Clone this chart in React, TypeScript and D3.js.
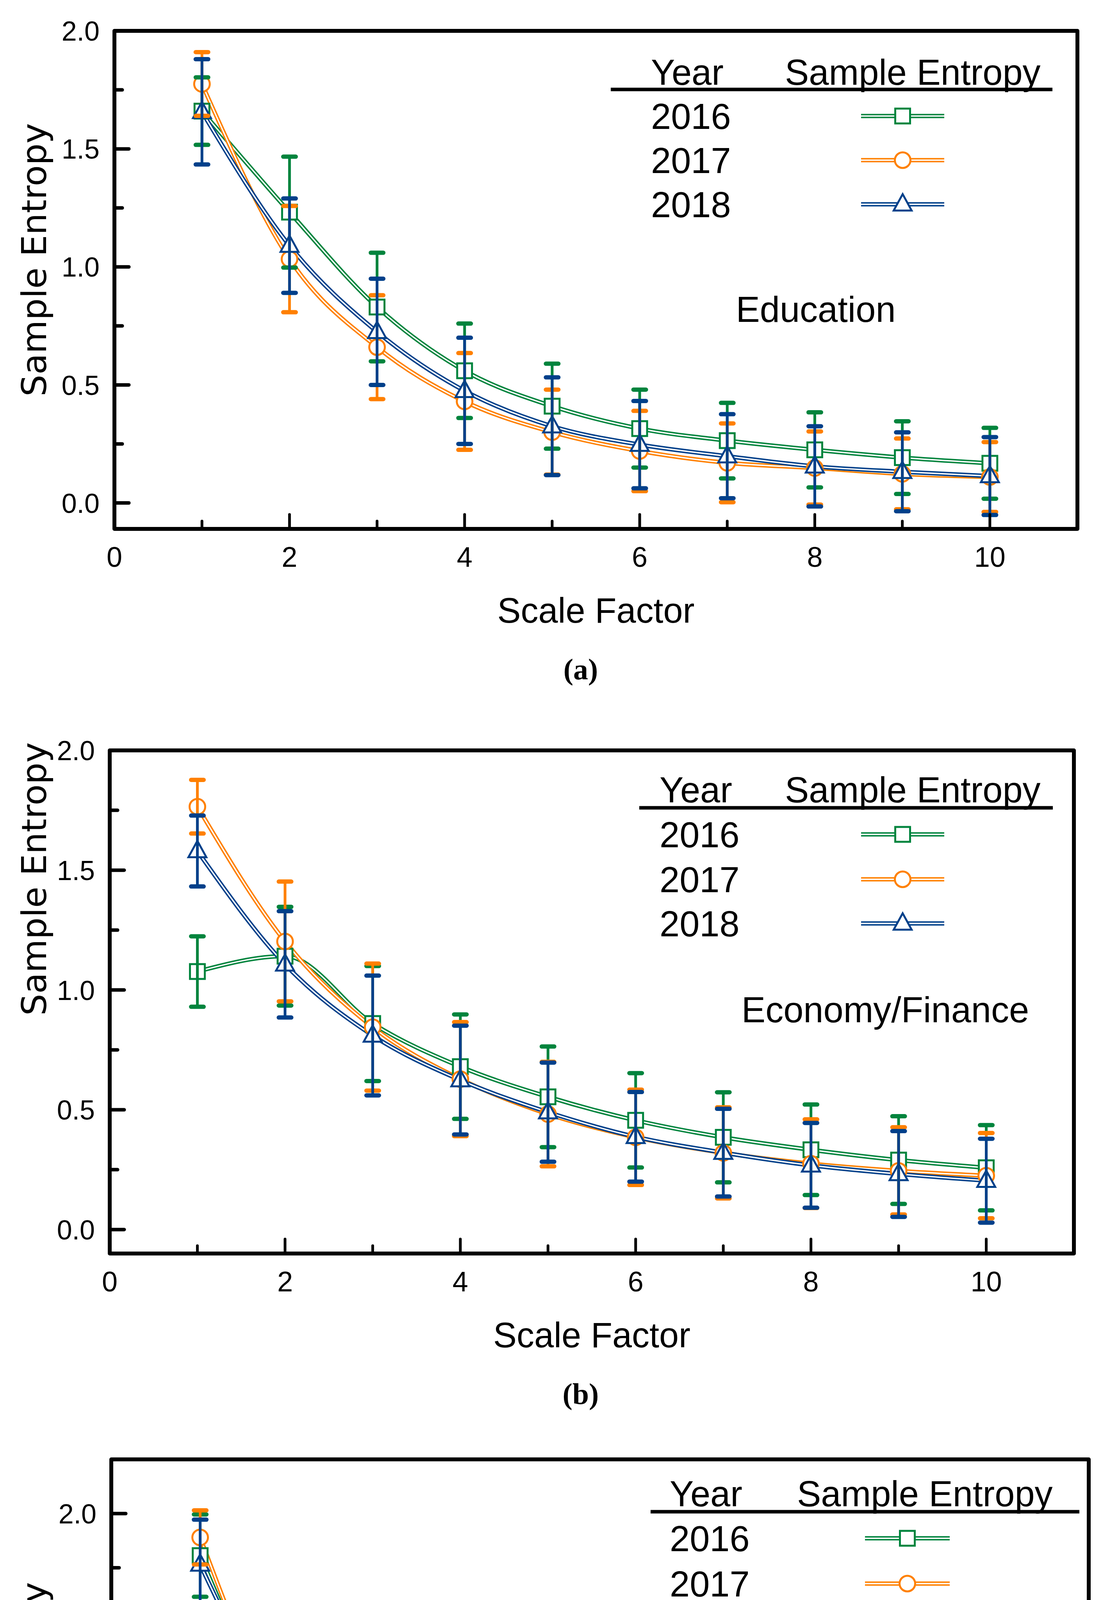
import React from 'react';
import * as d3 from 'd3';

const W = 2845;
const H = 5491;

const scaleFactors = [1, 2, 3, 4, 5, 6, 7, 8, 9, 10];
const years = ['2016', '2017', '2018'];
const seriesColors = ['#00843D', '#FF8000', '#00408A'];
const markerKinds = ['square', 'circle', 'triangle'];

// (a) Education
const eduMean2016 = [1.66, 1.232, 0.83, 0.56, 0.41, 0.315, 0.264, 0.225, 0.192, 0.168];
const eduErr2016 = [0.143, 0.235, 0.23, 0.2, 0.18, 0.165, 0.16, 0.159, 0.154, 0.15];
const eduMean2017 = [1.775, 1.033, 0.66, 0.43, 0.3, 0.22, 0.17, 0.148, 0.123, 0.11];
const eduErr2017 = [0.135, 0.225, 0.22, 0.205, 0.18, 0.17, 0.167, 0.155, 0.15, 0.148];
const eduMean2018 = [1.657, 1.09, 0.725, 0.475, 0.325, 0.247, 0.198, 0.155, 0.132, 0.114];
const eduErr2018 = [0.223, 0.2, 0.225, 0.225, 0.207, 0.185, 0.178, 0.17, 0.167, 0.165];

// (b) Economy/Finance
const ecoMean2016 = [1.077, 1.141, 0.86, 0.68, 0.554, 0.456, 0.385, 0.333, 0.29, 0.258];
const ecoErr2016 = [0.147, 0.206, 0.24, 0.218, 0.21, 0.197, 0.188, 0.189, 0.183, 0.178];
const ecoMean2017 = [1.765, 1.2025, 0.845, 0.628, 0.482, 0.385, 0.32, 0.275, 0.245, 0.225];
const ecoErr2017 = [0.112, 0.25, 0.265, 0.238, 0.218, 0.199, 0.19, 0.185, 0.182, 0.178];
const ecoMean2018 = [1.58, 1.107, 0.81, 0.624, 0.49, 0.387, 0.321, 0.268, 0.232, 0.204];
const ecoErr2018 = [0.148, 0.222, 0.25, 0.227, 0.207, 0.187, 0.183, 0.177, 0.179, 0.175];

// (c) Medicine
const medMean2016 = [1.806, 0.952, 0.551, 0.342, 0.23, 0.152, 0.115, 0.09, 0.08, 0.07];
const medErr2016 = [0.19, 0.217, 0.214, 0.193, 0.176, 0.151, 0.14, 0.135, 0.132, 0.128];
const medMean2017 = [1.89, 0.937, 0.545, 0.338, 0.217, 0.148, 0.11, 0.087, 0.075, 0.068];
const medErr2017 = [0.125, 0.217, 0.214, 0.2, 0.178, 0.152, 0.142, 0.137, 0.133, 0.13];
const medMean2018 = [1.765, 0.985, 0.555, 0.317, 0.208, 0.145, 0.108, 0.085, 0.072, 0.065];
const medErr2018 = [0.207, 0.222, 0.225, 0.204, 0.177, 0.153, 0.143, 0.137, 0.134, 0.13];

const yMajorTicks = [0, 0.5, 1.0, 1.5, 2.0];
const yMinorTicks = [0.25, 0.75, 1.25, 1.75];
const xMajorTicks = [0, 2, 4, 6, 8, 10];
const xMinorTicks = [1, 3, 5, 7, 9];

const SANS = "'Liberation Sans', Arial, Helvetica, sans-serif";
const WIDE = "'DejaVu Sans', Verdana, sans-serif";
const SERIF = "'Liberation Serif', 'Times New Roman', serif";

type Panel = {
  tag: string;
  title: string;
  left: number; right: number; top: number; bottom: number;
  yMin: number; yMax: number;
  means: number[][];
  errs: number[][];
  yTitleY: number;
  legend: { lineX1: number; lineX2: number; lineY: number; headY: number; yearX: number; seX: number; rowY: number[]; symX1: number; symX2: number };
  titleX: number; titleY: number;
};

const panels: Panel[] = [
  {
    tag: '(a)', title: 'Education',
    left: 293, right: 2759, top: 79, bottom: 1354, yMin: -0.11, yMax: 2.0,
    means: [eduMean2016, eduMean2017, eduMean2018],
    errs: [eduErr2016, eduErr2017, eduErr2018],
    yTitleY: 665,
    legend: { lineX1: 1564, lineX2: 2695, lineY: 229, headY: 217, yearX: 1667, seX: 2010, rowY: [330, 443, 556], symX1: 2205, symX2: 2418 },
    titleX: 2089, titleY: 824,
  },
  {
    tag: '(b)', title: 'Economy/Finance',
    left: 281, right: 2750, top: 1921, bottom: 3209, yMin: -0.1, yMax: 2.0,
    means: [ecoMean2016, ecoMean2017, ecoMean2018],
    errs: [ecoErr2016, ecoErr2017, ecoErr2018],
    yTitleY: 2250,
    legend: { lineX1: 1637, lineX2: 2696, lineY: 2068, headY: 2054, yearX: 1689, seX: 2010, rowY: [2169, 2284, 2397], symX1: 2205, symX2: 2418 },
    titleX: 2267, titleY: 2617,
  },
  {
    tag: '(c)', title: 'Medicine',
    left: 285, right: 2788, top: 3736, bottom: 5040, yMin: -0.1, yMax: 2.25,
    means: [medMean2016, medMean2017, medMean2018],
    errs: [medErr2016, medErr2017, medErr2018],
    yTitleY: 4400,
    legend: { lineX1: 1666, lineX2: 2764, lineY: 3870, headY: 3856, yearX: 1715, seX: 2041, rowY: [3971, 4087, 4203], symX1: 2215, symX2: 2432 },
    titleX: 2147, titleY: 4515,
  },
];

function Marker({ kind, cx, cy, color }: { kind: string; cx: number; cy: number; color: string }) {
  const sw = 5;
  if (kind === 'square') {
    return <rect x={cx - 19} y={cy - 19} width={38} height={38} fill="#fff" stroke={color} strokeWidth={sw} />;
  }
  if (kind === 'circle') {
    return <circle cx={cx} cy={cy} r={20} fill="#fff" stroke={color} strokeWidth={sw} />;
  }
  const h = 42;
  const w = 46;
  const d = `M${cx},${cy - h * 0.62} L${cx + w / 2},${cy + h * 0.38} L${cx - w / 2},${cy + h * 0.38} Z`;
  return <path d={d} fill="#fff" stroke={color} strokeWidth={sw} strokeLinejoin="miter" />;
}

function ChartPanel({ p }: { p: Panel }) {
  const x = d3.scaleLinear().domain([0, 11]).range([p.left, p.right]);
  const y = d3.scaleLinear().domain([p.yMin, p.yMax]).range([p.bottom, p.top]);
  const line = d3
    .line<number>()
    .x((_, i) => x(scaleFactors[i]))
    .y((d) => y(d))
    .curve(d3.curveMonotoneX);

  const frameW = 10;
  const majorLen = 37;
  const minorLen = 20;
  const cx = (p.left + p.right) / 2;

  return (
    <g>
      {p.means.map((m, s) => (
        <g key={'l' + s}>
          <path d={line(m) || ''} fill="none" stroke={seriesColors[s]} strokeWidth={11} />
          <path d={line(m) || ''} fill="none" stroke="#fff" strokeWidth={3.5} />
        </g>
      ))}
      {p.means.map((m, s) =>
        m.map((v, i) => (
          <Marker key={'m' + s + '-' + i} kind={markerKinds[s]} cx={x(scaleFactors[i])} cy={y(v)} color={seriesColors[s]} />
        ))
      )}
      {p.means.map((m, s) =>
        m.map((v, i) => {
          const xx = x(scaleFactors[i]);
          const hi = y(v + p.errs[s][i]);
          const lo = y(v - p.errs[s][i]);
          return (
            <g key={'e' + s + '-' + i} stroke={seriesColors[s]}>
              <line x1={xx} x2={xx} y1={hi} y2={lo} strokeWidth={7} />
              <line x1={xx - 16} x2={xx + 16} y1={hi} y2={hi} strokeWidth={11} strokeLinecap="round" />
              <line x1={xx - 16} x2={xx + 16} y1={lo} y2={lo} strokeWidth={11} strokeLinecap="round" />
            </g>
          );
        })
      )}

      <rect x={p.left} y={p.top} width={p.right - p.left} height={p.bottom - p.top} fill="none" stroke="#000" strokeWidth={frameW} strokeLinejoin="round" />

      {yMajorTicks.map((t) => (
        <g key={'yt' + t}>
          <line x1={p.left} x2={p.left + majorLen} y1={y(t)} y2={y(t)} stroke="#000" strokeWidth={9} strokeLinecap="round" />
          <text x={p.left - 38} y={y(t)} dy="0.36em" textAnchor="end" fontFamily={SANS} fontSize={70} fill="#000">
            {d3.format('.1f')(t)}
          </text>
        </g>
      ))}
      {yMinorTicks.map((t) => (
        <line key={'ym' + t} x1={p.left} x2={p.left + minorLen} y1={y(t)} y2={y(t)} stroke="#000" strokeWidth={9} strokeLinecap="round" />
      ))}
      {xMajorTicks.map((t) => (
        <g key={'xt' + t}>
          <line x1={x(t)} x2={x(t)} y1={p.bottom} y2={p.bottom - majorLen} stroke="#000" strokeWidth={7} strokeLinecap="round" />
          <text x={x(t)} y={p.bottom + 97} textAnchor="middle" fontFamily={SANS} fontSize={72} fill="#000">
            {d3.format('d')(t)}
          </text>
        </g>
      ))}
      {xMinorTicks.map((t) => (
        <line key={'xm' + t} x1={x(t)} x2={x(t)} y1={p.bottom} y2={p.bottom - minorLen} stroke="#000" strokeWidth={7} strokeLinecap="round" />
      ))}

      <text x={cx} y={p.bottom + 240} textAnchor="middle" fontFamily={SANS} fontSize={90} fill="#000">
        Scale Factor
      </text>
      <text transform={`translate(118,${p.yTitleY}) rotate(-90)`} textAnchor="middle" fontFamily={WIDE} fontSize={88} fill="#000">
        Sample Entropy
      </text>
      <text x={1487} y={p.bottom + 385} textAnchor="middle" fontFamily={SERIF} fontWeight="bold" fontSize={76} fill="#000">
        {p.tag}
      </text>

      <text x={p.titleX} y={p.titleY} textAnchor="middle" fontFamily={SANS} fontSize={92} fill="#000">
        {p.title}
      </text>

      <text x={p.legend.yearX} y={p.legend.headY} fontFamily={SANS} fontSize={92} fill="#000">Year</text>
      <text x={p.legend.seX} y={p.legend.headY} fontFamily={SANS} fontSize={92} fill="#000">Sample Entropy</text>
      <line x1={p.legend.lineX1} x2={p.legend.lineX2} y1={p.legend.lineY} y2={p.legend.lineY} stroke="#000" strokeWidth={9} />
      {years.map((yr, s) => {
        const ry = p.legend.rowY[s];
        const sy = ry - 33;
        const mx = (p.legend.symX1 + p.legend.symX2) / 2;
        return (
          <g key={'lg' + yr}>
            <text x={p.legend.yearX} y={ry} fontFamily={SANS} fontSize={92} fill="#000">{yr}</text>
            <line x1={p.legend.symX1} x2={p.legend.symX2} y1={sy} y2={sy} stroke={seriesColors[s]} strokeWidth={11} />
            <line x1={p.legend.symX1} x2={p.legend.symX2} y1={sy} y2={sy} stroke="#fff" strokeWidth={3.5} />
            <Marker kind={markerKinds[s]} cx={mx} cy={sy} color={seriesColors[s]} />
          </g>
        );
      })}
    </g>
  );
}

export default function App() {
  return (
    <svg
      width={W}
      height={H}
      viewBox={`0 0 ${W} ${H}`}
      style={{ display: 'block', margin: '-8px', background: '#fff' }}
      xmlns="http://www.w3.org/2000/svg"
    >
      <rect x={0} y={0} width={W} height={H} fill="#fff" />
      {panels.map((p) => (
        <ChartPanel key={p.tag} p={p} />
      ))}
    </svg>
  );
}
